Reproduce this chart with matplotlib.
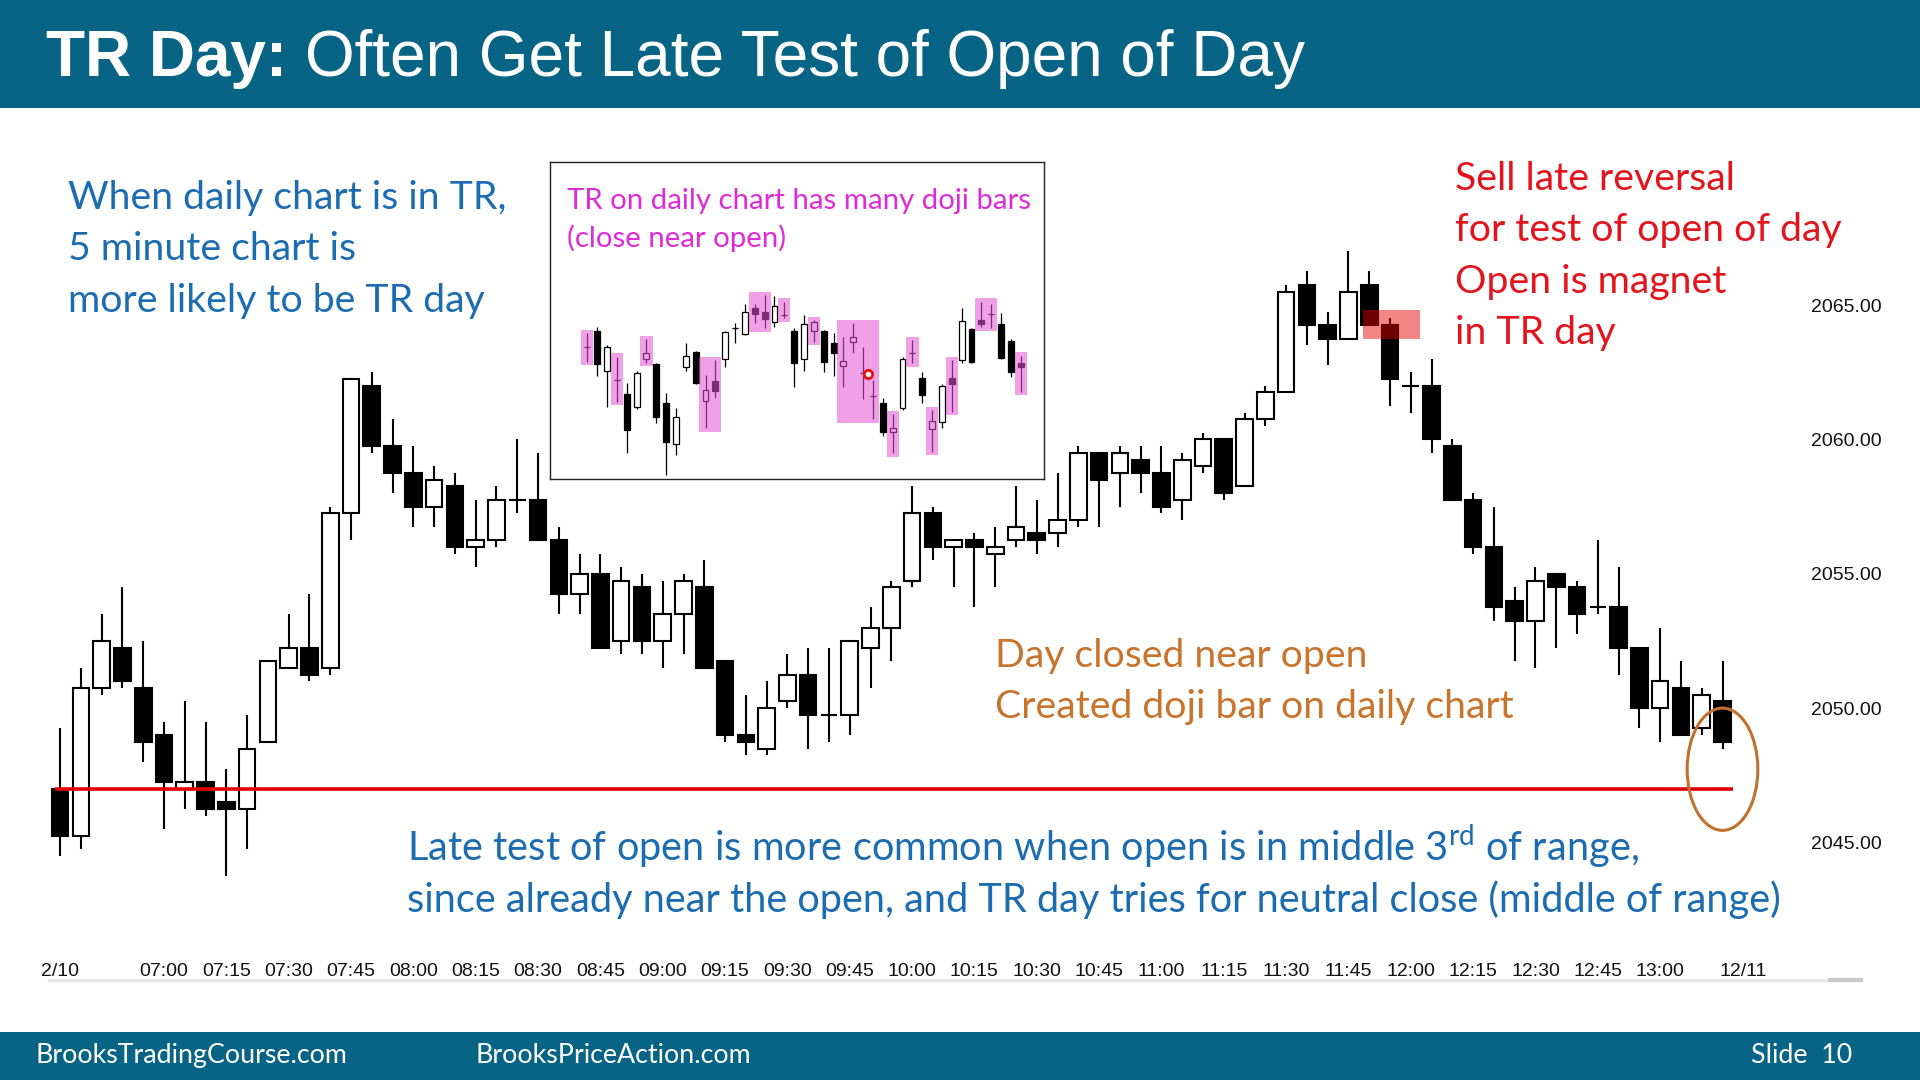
import matplotlib

matplotlib.use("Agg")
import matplotlib.pyplot as plt
import numpy as np
from matplotlib.lines import Line2D
from matplotlib.patches import Ellipse, Rectangle

W, H = 1920, 1080
BAND = "#086485"
BLUE = "#1b6cb0"
RED = "#e3141b"
MAGENTA = "#df2ad9"
ORANGE = "#c8742c"

plt.rcParams["font.family"] = ["Liberation Sans", "DejaVu Sans"]
plt.rcParams["mathtext.fontset"] = "custom"
plt.rcParams["mathtext.rm"] = "Lato"

# --- 5 minute bars, day session of 12/10 (first bar closes 06:35) ---
bar_open = [
    2047.00, 2045.25, 2050.75, 2052.25, 2050.75, 2049.00, 2047.00, 2047.25, 2046.50, 2046.25,
    2048.75, 2051.50, 2052.25, 2051.50, 2057.25, 2062.00, 2059.75, 2058.75, 2057.50, 2058.25,
    2056.00, 2056.25, 2057.75, 2057.75, 2056.25, 2054.25, 2055.00, 2052.50, 2054.50, 2052.50,
    2053.50, 2054.50, 2051.75, 2049.00, 2048.50, 2050.25, 2051.25, 2049.75, 2049.75, 2052.25,
    2053.00, 2054.75, 2057.25, 2056.00, 2056.25, 2055.75, 2056.25, 2056.50, 2056.50, 2057.00,
    2059.50, 2058.75, 2059.25, 2058.75, 2057.75, 2059.00, 2060.00, 2058.25, 2060.75, 2061.75,
    2065.75, 2064.25, 2063.75, 2065.75, 2064.25, 2062.00, 2062.00, 2059.75, 2057.75, 2056.00,
    2054.00, 2053.25, 2055.00, 2054.50, 2053.75, 2053.75, 2052.25, 2050.00, 2050.75, 2049.25,
    2050.25,
]
bar_high = [
    2049.25, 2051.50, 2053.50, 2054.50, 2052.50, 2049.50, 2050.25, 2049.50, 2047.75, 2049.75,
    2051.75, 2053.50, 2054.25, 2057.50, 2062.25, 2062.50, 2060.75, 2059.75, 2059.00, 2058.75,
    2057.75, 2058.25, 2060.00, 2059.50, 2056.75, 2055.75, 2055.75, 2055.25, 2055.00, 2054.75,
    2055.00, 2055.50, 2051.75, 2050.50, 2051.00, 2052.00, 2052.25, 2052.25, 2052.50, 2053.75,
    2054.75, 2058.25, 2057.50, 2056.25, 2056.50, 2056.75, 2058.25, 2057.75, 2058.75, 2059.75,
    2059.50, 2059.75, 2059.75, 2059.75, 2059.50, 2060.25, 2060.00, 2061.00, 2062.00, 2065.75,
    2066.25, 2064.75, 2067.00, 2066.25, 2064.50, 2062.50, 2063.00, 2060.00, 2058.00, 2057.50,
    2054.50, 2055.25, 2055.00, 2054.75, 2056.25, 2055.25, 2052.25, 2053.00, 2051.75, 2050.75,
    2051.75,
]
bar_low = [
    2044.50, 2044.75, 2050.50, 2050.75, 2048.00, 2045.50, 2046.25, 2046.00, 2043.75, 2044.75,
    2048.75, 2051.50, 2051.00, 2051.25, 2056.25, 2059.50, 2058.00, 2056.75, 2056.75, 2055.75,
    2055.25, 2056.00, 2057.25, 2056.25, 2053.50, 2053.50, 2052.25, 2052.00, 2052.00, 2051.50,
    2052.00, 2051.50, 2048.75, 2048.25, 2048.25, 2050.00, 2048.50, 2048.75, 2049.00, 2050.75,
    2051.75, 2054.50, 2055.50, 2054.50, 2053.75, 2054.50, 2056.00, 2055.75, 2056.00, 2056.75,
    2056.75, 2057.50, 2058.00, 2057.25, 2057.00, 2058.75, 2057.75, 2058.25, 2060.50, 2061.75,
    2063.50, 2062.75, 2063.75, 2064.25, 2061.25, 2061.00, 2059.50, 2057.75, 2055.75, 2053.25,
    2051.75, 2051.50, 2052.25, 2052.75, 2053.50, 2051.25, 2049.25, 2048.75, 2049.00, 2049.00,
    2048.50,
]
bar_close = [
    2045.25, 2050.75, 2052.50, 2051.00, 2048.75, 2047.25, 2047.25, 2046.25, 2046.25, 2048.50,
    2051.75, 2052.25, 2051.25, 2057.25, 2062.25, 2059.75, 2058.75, 2057.50, 2058.50, 2056.00,
    2056.25, 2057.75, 2057.75, 2056.25, 2054.25, 2055.00, 2052.25, 2054.75, 2052.50, 2053.50,
    2054.75, 2051.50, 2049.00, 2048.75, 2050.00, 2051.25, 2049.75, 2049.75, 2052.50, 2053.00,
    2054.50, 2057.25, 2056.00, 2056.25, 2056.00, 2056.00, 2056.75, 2056.25, 2057.00, 2059.50,
    2058.50, 2059.50, 2058.75, 2057.50, 2059.25, 2060.00, 2058.00, 2060.75, 2061.75, 2065.50,
    2064.25, 2063.75, 2065.50, 2064.25, 2062.25, 2062.00, 2060.00, 2057.75, 2056.00, 2053.75,
    2053.25, 2054.75, 2054.50, 2053.50, 2053.75, 2052.25, 2050.00, 2051.00, 2049.00, 2050.50,
    2048.75,
]

time_labels = [
    "07:00", "07:15", "07:30", "07:45", "08:00", "08:15", "08:30", "08:45", "09:00",
    "09:15", "09:30", "09:45", "10:00", "10:15", "10:30", "10:45", "11:00", "11:15",
    "11:30", "11:45", "12:00", "12:15", "12:30", "12:45", "13:00",
]
price_ticks = [2045, 2050, 2055, 2060, 2065]

# --- daily bars shown in the inset ---
day_open = [
    2050.75, 2058.00, 2040.00, 2036.00, 2029.75, 2024.00, 2045.25, 2043.00, 2025.50, 2007.00,
    2041.75, 2048.50, 2026.75, 2035.75, 2045.25, 2059.25, 2056.75, 2068.25, 2066.50, 2062.25,
    2065.25, 2058.25, 2045.25, 2058.00, 2058.25, 2052.75, 2042.50, 2053.25, 2039.00, 2029.00,
    2025.50, 2012.75, 2023.25, 2048.00, 2037.00, 2013.75, 2017.25, 2036.75, 2045.00, 2058.75,
    2063.00, 2065.75, 2061.00, 2053.50, 2043.50,
]
day_high = [
    2057.00, 2060.00, 2051.75, 2046.50, 2034.75, 2040.25, 2054.50, 2043.50, 2030.00, 2023.25,
    2052.75, 2049.25, 2038.25, 2045.00, 2058.25, 2061.50, 2070.25, 2070.25, 2074.25, 2073.75,
    2071.25, 2059.25, 2065.25, 2063.00, 2058.50, 2057.25, 2055.50, 2061.50, 2050.75, 2036.00,
    2027.75, 2020.50, 2046.50, 2054.00, 2039.50, 2022.50, 2034.00, 2045.00, 2068.25, 2059.25,
    2071.25, 2070.25, 2066.00, 2054.50, 2047.00,
]
day_low = [
    2044.25, 2037.75, 2024.00, 2026.25, 2003.25, 2022.75, 2043.75, 2016.50, 1993.25, 2002.25,
    2040.25, 2034.25, 2014.25, 2027.75, 2041.75, 2052.50, 2056.25, 2061.50, 2059.25, 2060.00,
    2063.75, 2032.75, 2040.25, 2053.25, 2039.75, 2037.75, 2033.00, 2048.25, 2027.25, 2018.25,
    2010.75, 2003.00, 2022.50, 2043.50, 2025.75, 2003.75, 2014.25, 2021.75, 2043.50, 2043.50,
    2060.00, 2059.50, 2045.50, 2037.25, 2030.75,
]
day_close = [
    2050.75, 2043.00, 2051.00, 2036.00, 2013.50, 2039.25, 2048.00, 2019.25, 2008.00, 2019.25,
    2047.00, 2034.75, 2031.50, 2031.25, 2057.50, 2059.25, 2066.75, 2065.50, 2063.25, 2069.25,
    2065.25, 2043.50, 2061.25, 2062.25, 2044.25, 2048.25, 2044.75, 2055.50, 2039.00, 2029.00,
    2012.75, 2014.50, 2045.50, 2048.00, 2029.25, 2017.75, 2033.50, 2034.25, 2062.75, 2044.00,
    2061.25, 2065.75, 2046.00, 2039.75, 2041.75,
]
# runs of doji bars that are marked in pink
doji_groups = [
    [0], [3], [6], [12, 13], [17, 18], [20], [23], [26, 27, 28, 29],
    [31], [33], [35], [37], [40, 41], [44],
]


def fx(x):
    return x / W


def fy(y):
    return 1 - y / H


def candles(ax, o, h, l, c, width, lw):
    o, h, l, c = map(np.asarray, (o, h, l, c))
    x = np.arange(len(o))
    up = c >= o
    ax.vlines(x, l, h, color="black", lw=lw, zorder=2)
    ax.bar(x, np.abs(c - o), bottom=np.minimum(o, c), width=width,
           color=np.where(up, "white", "black"), edgecolor="black",
           linewidth=lw, zorder=3)


fig = plt.figure(figsize=(W / 100, H / 100), dpi=100)
fig.patch.set_facecolor("white")

# header and footer bands
fig.add_artist(Rectangle((0, fy(108)), 1, 108 / H, transform=fig.transFigure,
                         color=BAND, lw=0, zorder=0))
fig.add_artist(Rectangle((0, 0), 1, 48 / H, transform=fig.transFigure,
                         color=BAND, lw=0, zorder=0))

# --- main 5 minute chart ---
# bar i sits at X0 + i*DX px, price 2065 at Y65 px, PPT px per point
X0, DX, Y65, PPT = 60.1, 20.78, 305.0, 26.88
left, right, top, bottom = 40, 1800, 120, 950
ax = fig.add_axes([fx(left), fy(bottom), (right - left) / W, (bottom - top) / H])
ax.set_facecolor("none")
ax.set_xlim((left - X0) / DX, (right - X0) / DX)
ax.set_ylim(2065 - (bottom - Y65) / PPT, 2065 + (Y65 - top) / PPT)
for s in ax.spines.values():
    s.set_visible(False)

candles(ax, bar_open, bar_high, bar_low, bar_close, width=0.8, lw=1.5)
n = len(bar_open)

# open of day
ax.hlines(bar_open[0], -0.25, n - 0.5, color="#e00000", lw=2.6, zorder=4)
# sell signal zone at the top
ax.add_patch(Rectangle((62.7, 2063.75), 2.75, 1.05, color="#e80000", alpha=0.48,
                       lw=0, zorder=5))
# late test of the open
ax.add_patch(Ellipse((n - 1, 2047.73), 3.4, 4.55, fill=False, edgecolor="#c0712e",
                     lw=2.2, zorder=5))

tick_pos = [(int(t[:2]) * 60 + int(t[3:]) - (6 * 60 + 35)) / 5 for t in time_labels]
ax.set_xticks([0] + tick_pos + [n], ["2/10"] + time_labels + ["12/11"])
ax.tick_params(axis="x", length=0, pad=9, labelsize=14, colors="#111111")
ax.yaxis.tick_right()
ax.set_yticks(price_ticks, [f"{v:.2f}" for v in price_ticks])
ax.tick_params(axis="y", length=0, pad=8, labelsize=14, colors="#111111")

# scroll bar under the time axis
fig.add_artist(Line2D([fx(49), fx(1830)], [fy(980)] * 2, color="#e8e8e8", lw=2.5))
fig.add_artist(Line2D([fx(1830), fx(1861)], [fy(980)] * 2, color="#c8c8c8", lw=3))

# --- inset: daily chart ---
ins = fig.add_axes([fx(549.7), fy(479), (1043.7 - 549.7) / W, (479 - 161.7) / H],
                   zorder=10)
ins.set_facecolor("white")
ins.set_xlim(-3.82, 46.33)
ins.set_ylim(1991.45, 2134.2)
ins.set_xticks([])
ins.set_yticks([])
for s in ins.spines.values():
    s.set_linewidth(1.0)
    s.set_color("#222222")

candles(ins, day_open, day_high, day_low, day_close, width=0.6, lw=0.9)
for g in doji_groups:
    hi = max(day_high[i] for i in g) + 1.5
    lo = min(day_low[i] for i in g) - 1.5
    ins.add_patch(Rectangle((g[0] - 0.62, lo), g[-1] - g[0] + 1.24, hi - lo,
                            color="#e452d2", alpha=0.55, lw=0, zorder=5))
ins.plot(28.5, 2038.7, marker="o", ms=6, mfc="white", mec="#e51010", mew=2, zorder=6)


def say(x, y, s, size, color, **kw):
    kw.setdefault("family", ["Lato", "DejaVu Sans"])
    fig.text(fx(x), fy(y), s, fontsize=size, color=color, va="baseline", zorder=12, **kw)


BODY = 28.3

# title
say(46, 76, "TR Day:", 46, "white", family="Liberation Sans", weight="bold")
say(305, 76, "Often Get Late Test of Open of Day", 46, "white", family="Liberation Sans")

for i, line in enumerate(["When daily chart is in TR,", "5 minute chart is",
                          "more likely to be TR day"]):
    say(68, 209 + i * 51.3, line, BODY, BLUE)

for i, line in enumerate(["Sell late reversal", "for test of open of day",
                          "Open is magnet", "in TR day"]):
    say(1455, 190 + i * 51.3, line, BODY, RED)

for i, line in enumerate(["TR on daily chart has many doji bars", "(close near open)"]):
    say(567, 209 + i * 38, line, 21.2, MAGENTA)

for i, line in enumerate(["Day closed near open", "Created doji bar on daily chart"]):
    say(995, 667 + i * 51, line, BODY, ORANGE)

for i, line in enumerate([r"Late test of open is more common when open is in middle 3$^{\mathrm{rd}}$ of range,",
                          "since already near the open, and TR day tries for neutral close (middle of range)"]):
    say(407, 861 + i * 51, line, 28.6, BLUE)

# footer
say(35, 1063, "BrooksTradingCourse.com", 19.3, "white")
say(475, 1063, "BrooksPriceAction.com", 19.3, "white")
say(1852, 1063, "Slide  10", 19.3, "white", ha="right")

fig.savefig("out.png", dpi=100)
